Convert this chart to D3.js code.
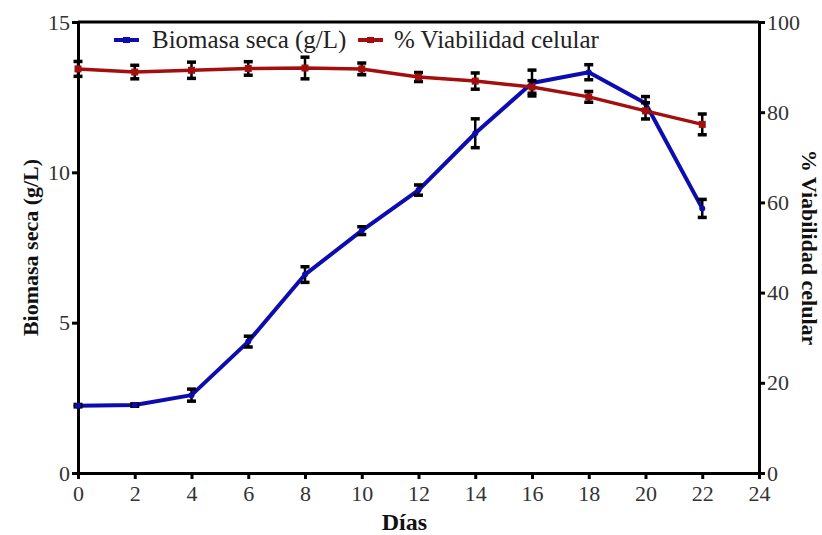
<!DOCTYPE html>
<html>
<head>
<meta charset="utf-8">
<script src="https://cdn.jsdelivr.net/npm/d3@7"></script>
<style>
  body { margin: 0; background: #fff; }
  .axis path, .axis line { stroke: #000; stroke-width: 3; }
</style>
</head>
<body>
<div id="chart"></div>
<script>
const w = 822, h = 535;
const margin = { left: 78, right: 63, top: 22, bottom: 62 };
const serif = "'Liberation Serif', 'Times New Roman', serif";

// data
const days = [0, 2, 4, 6, 8, 10, 12, 14, 16, 18, 20, 22];
const biomasa = [2.24, 2.26, 2.59, 4.37, 6.6, 8.06, 9.41, 11.3, 12.97, 13.33, 12.3, 8.8];
const biomasaErr = [0.04, 0.04, 0.2, 0.18, 0.26, 0.13, 0.17, 0.48, 0.43, 0.25, 0.22, 0.3];
const viabilidad = [89.6, 88.9, 89.3, 89.7, 89.8, 89.6, 87.8, 86.9, 85.6, 83.4, 80.3, 77.3];
const viabilidadErr = [1.65, 1.5, 1.8, 1.5, 2.4, 1.3, 1.0, 1.8, 1.4, 1.2, 1.8, 2.3];
const xTicks = [0, 2, 4, 6, 8, 10, 12, 14, 16, 18, 20, 22, 24];
const leftTicks = [0, 5, 10, 15];
const rightTicks = [0, 20, 40, 60, 80, 100];

const blue = "#0c0cb0", red = "#a30f0f";

const svg = d3.select("#chart").append("svg")
    .attr("width", w)
    .attr("height", h);

const x = d3.scaleLinear().domain([0, 24]).range([margin.left, w - margin.right]);
const yL = d3.scaleLinear().domain([0, 15]).range([h - margin.bottom, margin.top]);
const yR = d3.scaleLinear().domain([0, 100]).range([h - margin.bottom, margin.top]);

// top frame line
svg.append("line")
   .attr("x1", x(0)).attr("x2", x(24))
   .attr("y1", yL(15)).attr("y2", yL(15))
   .attr("stroke", "#000").attr("stroke-width", 3);

const styleAxis = g => {
    g.attr("font-family", serif).attr("font-size", 22);
    g.selectAll("text").attr("fill", "#333");
    g.select(".domain").attr("stroke-linecap", "square");
};

svg.append("g").attr("class", "axis")
   .attr("transform", "translate(0," + (h - margin.bottom) + ")")
   .call(d3.axisBottom(x).tickValues(xTicks).tickSize(6).tickPadding(4).tickSizeOuter(0))
   .call(styleAxis)
   .selectAll("text").attr("dy", "0.8em");

svg.append("g").attr("class", "axis")
   .attr("transform", "translate(" + margin.left + ",0)")
   .call(d3.axisLeft(yL).tickValues(leftTicks).tickSize(6).tickPadding(2).tickSizeOuter(0))
   .call(styleAxis);

svg.append("g").attr("class", "axis")
   .attr("transform", "translate(" + (w - margin.right) + ",0)")
   .call(d3.axisRight(yR).tickValues(rightTicks).tickSize(6).tickPadding(2).tickSizeOuter(0))
   .call(styleAxis);

// axis titles
const title = (sel, size) => sel
    .attr("font-family", serif)
    .attr("font-weight", "bold")
    .attr("font-size", size)
    .attr("fill", "#111")
    .attr("text-anchor", "middle");

svg.append("text")
   .attr("transform", "translate(38," + yL(7.5) + ") rotate(-90)")
   .call(title, 22)
   .text("Biomasa seca (g/L)");

svg.append("text")
   .attr("transform", "translate(802," + yL(7.5) + ") rotate(90)")
   .call(title, 22)
   .text("% Viabilidad celular");

svg.append("text")
   .attr("x", x(11.5)).attr("y", 530)
   .call(title, 24)
   .text("Días");

const drawSeries = (vals, errs, yScale, color, lw, marker) => {
    const pts = days.map((d, i) => ({ d: d, v: vals[i], e: errs[i] }));
    svg.append("path")
       .datum(pts)
       .attr("fill", "none")
       .attr("stroke", color)
       .attr("stroke-width", lw)
       .attr("stroke-linejoin", "round")
       .attr("d", d3.line().x(p => x(p.d)).y(p => yScale(p.v)));

    const eb = svg.append("g").selectAll("g").data(pts).enter().append("g");
    eb.append("line")
      .attr("x1", p => x(p.d)).attr("x2", p => x(p.d))
      .attr("y1", p => yScale(p.v - p.e)).attr("y2", p => yScale(p.v + p.e))
      .attr("stroke", "#000").attr("stroke-width", 2.5);
    [-1, 1].forEach(s => {
        eb.append("line")
          .attr("x1", p => x(p.d) - 4.5).attr("x2", p => x(p.d) + 4.5)
          .attr("y1", p => yScale(p.v + s * p.e)).attr("y2", p => yScale(p.v + s * p.e))
          .attr("stroke", "#000").attr("stroke-width", 3.5);
    });

    if (marker === "square") {
        svg.append("g").selectAll("rect").data(pts).enter().append("rect")
           .attr("x", p => x(p.d) - 3.5).attr("y", p => yScale(p.v) - 3.5)
           .attr("width", 7).attr("height", 7).attr("fill", color);
    } else {
        svg.append("g").selectAll("circle").data(pts).enter().append("circle")
           .attr("cx", p => x(p.d)).attr("cy", p => yScale(p.v))
           .attr("r", 3).attr("fill", color);
    }
};

drawSeries(biomasa, biomasaErr, yL, blue, 4, "circle");
drawSeries(viabilidad, viabilidadErr, yR, red, 3.5, "square");

// legend
const legend = [
    { label: "Biomasa seca (g/L)", color: blue, x0: 114, tx: 152 },
    { label: "% Viabilidad celular", color: red, x0: 358, tx: 394 }
];
const lg = svg.append("g").selectAll("g").data(legend).enter().append("g");
lg.append("line")
  .attr("x1", d => d.x0).attr("x2", d => d.x0 + 25)
  .attr("y1", 40).attr("y2", 40)
  .attr("stroke", d => d.color).attr("stroke-width", 4);
lg.append("rect")
  .attr("x", d => d.x0 + 9).attr("y", 37).attr("width", 7).attr("height", 6)
  .attr("fill", d => d.color);
lg.append("text")
  .attr("x", d => d.tx).attr("y", 48)
  .attr("font-family", serif)
  .attr("font-size", 25)
  .attr("fill", "#222")
  .text(d => d.label);
</script>
</body>
</html>
